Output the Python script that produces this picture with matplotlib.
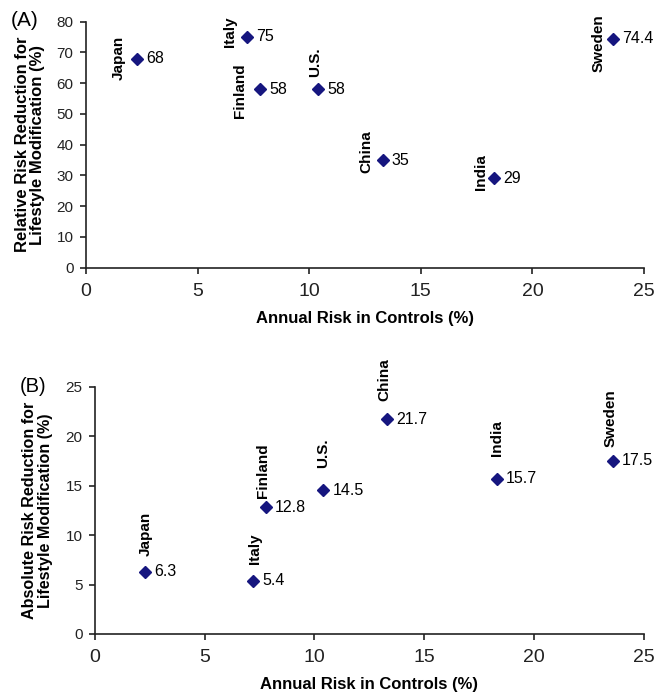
import matplotlib
matplotlib.use('Agg')
import matplotlib.pyplot as plt

plt.rcParams['font.family'] = ['Liberation Sans', 'DejaVu Sans']

# Datos
countries = ['Japan', 'Italy', 'Finland', 'U.S.', 'China', 'India', 'Sweden']
annual_risk = [2.3, 7.2, 7.8, 10.4, 13.3, 18.3, 23.6]
relative_rr = [68, 75, 58, 58, 35, 29, 74.4]
relative_labels = ['68', '75', '58', '58', '35', '29', '74.4']
absolute_rr = [6.3, 5.4, 12.8, 14.5, 21.7, 15.7, 17.5]
absolute_labels = ['6.3', '5.4', '12.8', '14.5', '21.7', '15.7', '17.5']

# desplazamientos de las etiquetas de pais (puntos)
name_off_a = [(-13, 0.7), (-12, 3.6), (-14.4, -0.7), (-2, 8.6), (-12, 6), (-10, 4.3), (-10, -3)]
name_off_b = [(0, 11.5), (1.5, 12), (-2, 7), (0, 16.5), (-1.5, 13), (0, 16.5), (-1.5, 10)]

navy = '#16167f'

fig = plt.figure(figsize=(6.66, 6.97), dpi=100)
ax1 = fig.add_axes([0.129, 0.616, 0.838, 0.353])
ax2 = fig.add_axes([0.1426, 0.0904, 0.824, 0.355])


def style(ax, ymax, ystep):
    ax.spines['top'].set_visible(False)
    ax.spines['right'].set_visible(False)
    ax.spines['left'].set_color('#222222')
    ax.spines['bottom'].set_color('#222222')
    ax.spines['left'].set_linewidth(1.2)
    ax.spines['bottom'].set_linewidth(1.2)
    ax.set_xlim(0, 25)
    ax.set_ylim(0, ymax)
    ax.set_xticks(range(0, 26, 5))
    ax.set_yticks(range(0, ymax + 1, ystep))
    ax.tick_params(axis='x', labelsize=14, length=4, width=1.2, direction='out', pad=7, colors='#222222')
    ax.tick_params(axis='y', labelsize=11, length=4, width=1.2, direction='out', pad=5, colors='#222222')
    ax.set_xlabel('Annual Risk in Controls (%)', fontsize=12, fontweight='bold', labelpad=8)


# Panel A
style(ax1, 80, 10)
ax1.plot(annual_risk, relative_rr, 'D', color=navy, markersize=6.5, clip_on=False)
for i in range(len(countries)):
    ax1.annotate(countries[i], (annual_risk[i], relative_rr[i]), xytext=name_off_a[i],
                 textcoords='offset points', rotation=90, ha='center',
                 va='center' if name_off_a[i][1] < 8 else 'bottom',
                 fontsize=11, fontweight='bold')
    ax1.annotate(relative_labels[i], (annual_risk[i], relative_rr[i]), xytext=(6.5, 0),
                 textcoords='offset points', ha='left', va='center', fontsize=11.5)
ax1.set_ylabel('Relative Risk Reduction for\nLifestyle Modification (%)', fontsize=12,
               fontweight='bold', labelpad=8, linespacing=1.05)

# Panel B
style(ax2, 25, 5)
ax2.plot(annual_risk, absolute_rr, 'D', color=navy, markersize=6.5, clip_on=False)
for i in range(len(countries)):
    ax2.annotate(countries[i], (annual_risk[i], absolute_rr[i]), xytext=name_off_b[i],
                 textcoords='offset points', rotation=90, ha='center', va='bottom',
                 fontsize=11, fontweight='bold')
    ax2.annotate(absolute_labels[i], (annual_risk[i], absolute_rr[i]), xytext=(6.5, 0),
                 textcoords='offset points', ha='left', va='center', fontsize=11.5)
ax2.set_ylabel('Absolute Risk Reduction for\nLifestyle Modification (%)', fontsize=11.6,
               fontweight='bold', labelpad=9, linespacing=1.05)

fig.text(25 / 666, 1 - 20 / 697, '(A)', fontsize=15, ha='center', va='center')
fig.text(33 / 666, 1 - 387 / 697, '(B)', fontsize=14.5, ha='center', va='center')

fig.savefig('out.png', dpi=100)
